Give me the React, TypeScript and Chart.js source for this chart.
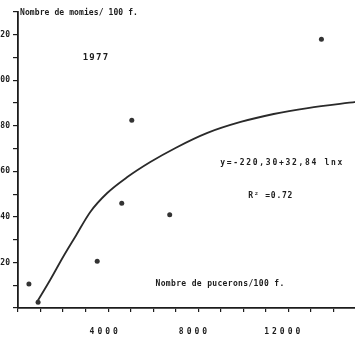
import React, { useEffect, useRef } from "react";
import { Chart, registerables } from "chart.js";

Chart.register(...registerables);

// Fitted logarithmic curve
const curveX = [850, 1440, 2020, 2560, 3240, 4000, 4900, 5930, 7060, 8490, 9980, 11460, 12990, 15150];
const curveY = [2.6, 12.3, 22.4, 31.2, 42.2, 50.5, 57.5, 64.1, 70.3, 76.9, 81.7, 85.2, 87.8, 90.5];

// Observed points
const pointX = [490, 900, 3550, 4650, 5100, 6800, 13600];
const pointY = [10.5, 2.5, 20.5, 46, 82.5, 41, 118];

// Tick labels
const yTickLabels = [20, 40, 60, 80, 100, 120];
const xTickLabels = [4000, 8000, 12000];

// Texts
const yTitle = "Nombre de momies/ 100 f.";
const xTitle = "Nombre de pucerons/100 f.";
const yearLabel = "1977";
const equation = "y=-220,30+32,84 lnx";
const r2Label = "R² =0.72";

const INK = "#1c1c1c";
const MONO = "'DejaVu Sans Mono'";

const textPlugin = {
  id: "texts",
  afterDraw(chart: any) {
    const { ctx, chartArea, scales } = chart;
    const xs = scales.x;
    const ys = scales.y;
    const put = (
      text: string,
      x: number,
      y: number,
      size: number,
      spacing: number,
      align: CanvasTextAlign = "center"
    ) => {
      ctx.save();
      ctx.fillStyle = INK;
      ctx.font = `bold ${size}px ${MONO}`;
      (ctx as any).letterSpacing = `${spacing}px`;
      ctx.textAlign = align;
      ctx.textBaseline = "middle";
      ctx.fillText(text, x, y);
      ctx.restore();
    };
    put(yTitle, chartArea.left + 2, chartArea.top + 1, 8, 0.1, "left");
    put(yearLabel, xs.getPixelForValue(3500), ys.getPixelForValue(110), 9, 1.3);
    put(equation, xs.getPixelForValue(11840), ys.getPixelForValue(63.7), 8, 1.7);
    put(r2Label, xs.getPixelForValue(11330), ys.getPixelForValue(49.2), 8, 0.8);
    put(xTitle, xs.getPixelForValue(9056), ys.getPixelForValue(10.5), 8, 0.35);
    // x-axis tick labels, placed through the x scale
    xTickLabels.forEach((v) => {
      put(String(v), xs.getPixelForValue(v) - 2, chartArea.bottom + 24, 8, 3);
    });
  },
};

export default function App() {
  const ref = useRef<HTMLCanvasElement | null>(null);

  useEffect(() => {
    if (!ref.current) return;
    const chart = new Chart(ref.current, {
      type: "scatter",
      data: {
        datasets: [
          {
            data: pointX.map((x, i) => ({ x, y: pointY[i] })),
            showLine: false,
            pointRadius: 2.5,
            pointBackgroundColor: "#333",
            pointBorderColor: "#333",
            pointBorderWidth: 0,
          },
          {
            data: curveX.map((x, i) => ({ x, y: curveY[i] })),
            showLine: true,
            borderColor: "#2a2a2a",
            borderWidth: 1.8,
            pointRadius: 0,
            cubicInterpolationMode: "monotone",
          },
        ],
      },
      options: {
        animation: false,
        responsive: false,
        maintainAspectRatio: false,
        layout: { padding: { top: 12, right: 0, left: 0, bottom: 0 } },
        plugins: { legend: { display: false }, tooltip: { enabled: false } },
        scales: {
          x: {
            type: "linear",
            min: 0,
            max: 15150,
            afterFit: (s: any) => {
              s.height = 29;
              s.paddingRight = 0;
              s.paddingLeft = 0;
            },
            border: { display: true, color: INK, width: 1.8 },
            grid: { drawOnChartArea: false, drawTicks: true, tickLength: 4, color: INK, lineWidth: 1.2 },
            ticks: {
              display: false,
              stepSize: 1000,
              includeBounds: false,
              autoSkip: false,
              maxRotation: 0,
              minRotation: 0,
              padding: 0,
            },
          },
          y: {
            type: "linear",
            min: 0,
            max: 130,
            afterFit: (s: any) => {
              s.width = 18;
            },
            border: { display: true, color: INK, width: 1.8 },
            grid: { drawOnChartArea: false, drawTicks: true, tickLength: 5, color: INK, lineWidth: 1.2 },
            ticks: {
              stepSize: 10,
              autoSkip: false,
              padding: 3,
              color: INK,
              font: { family: "DejaVu Sans Mono", size: 8, weight: "bold" },
              callback: (v: any) => (yTickLabels.includes(Number(v)) ? String(v) : ""),
            },
          },
        },
      },
      plugins: [textPlugin],
    } as any);
    return () => chart.destroy();
  }, []);

  return (
    <div style={{ position: "fixed", left: 0, top: 0, width: 355, height: 337, overflow: "hidden", background: "#fff" }}>
      <canvas ref={ref} width={360} height={337} style={{ width: 360, height: 337, display: "block" }} />
    </div>
  );
}
